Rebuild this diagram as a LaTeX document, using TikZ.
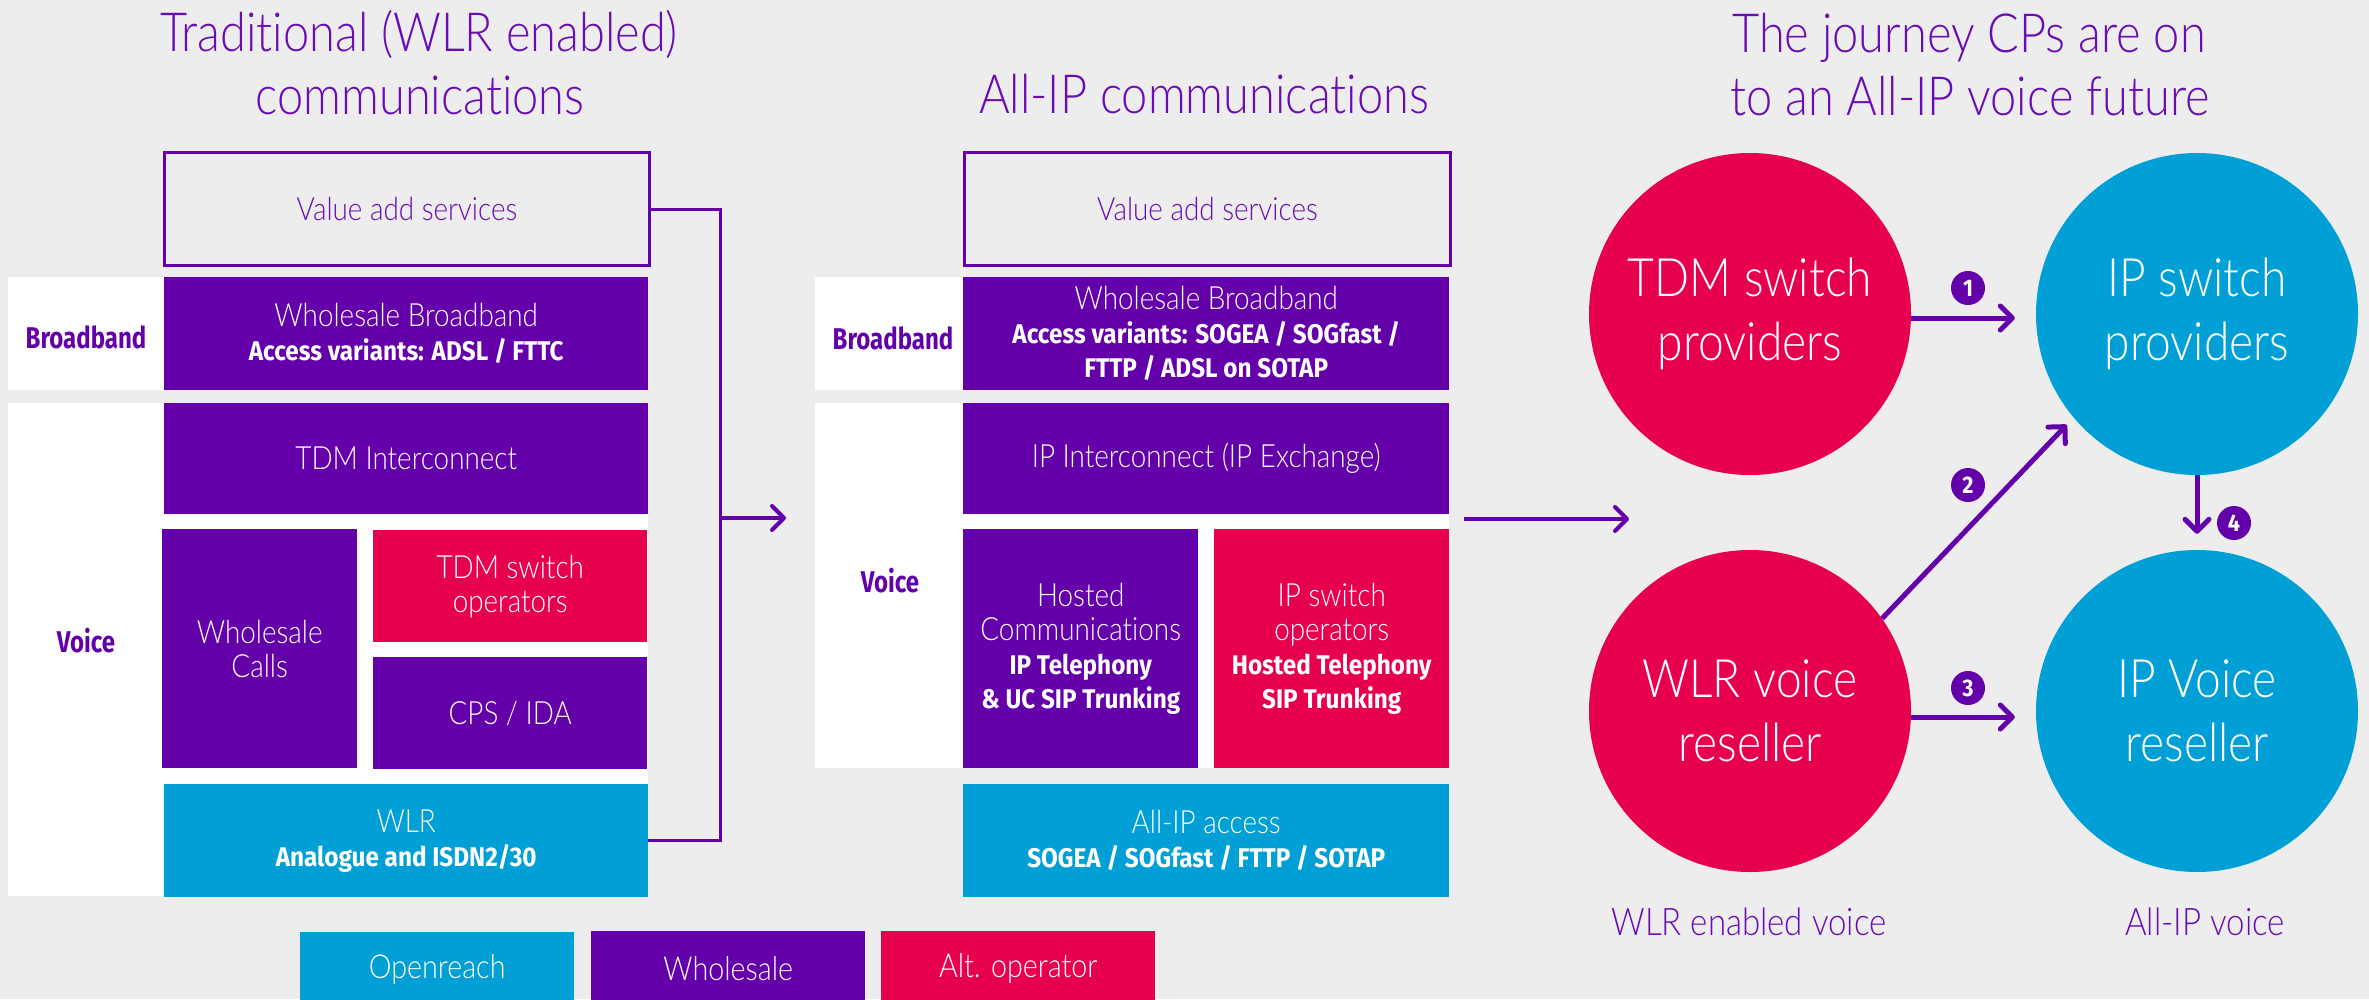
\documentclass[tikz,border=0pt]{standalone}
\usepackage{fontspec}
\setmainfont{Lato Light}[FakeStretch=0.87, Ligatures=NoCommon]
\newfontfamily\strongfont{Fira Sans}[FakeStretch=0.9]
\newfontfamily\labelfont{Fira Sans}[FakeStretch=0.8]
\usetikzlibrary{arrows.meta,calc}
\definecolor{bgc}{HTML}{EDEDED}
\definecolor{bpurple}{HTML}{6400AA}
\definecolor{bpink}{HTML}{E6004F}
\definecolor{bblue}{HTML}{00A0D6}
\definecolor{tpurple}{HTML}{6A0CB4}
\newcommand\lightsz{\fontsize{32}{34}\selectfont}
\newcommand\boldsz{\fontsize{27}{34}\selectfont\strongfont\bfseries}

\begin{document}
\begin{tikzpicture}[x=1pt,y=-1pt,
  tile/.style={rectangle, anchor=north west, inner sep=0pt, align=center, text=white, font=\lightsz},
  wholesale/.style={tile, fill=bpurple},
  openreach/.style={tile, fill=bblue},
  altop/.style={tile, fill=bpink},
  valuebox/.style={tile, draw=bpurple, line width=3pt, text=tpurple},
  sidelabel/.style={font=\fontsize{30}{34}\selectfont\labelfont\bfseries, text=bpurple},
  title/.style={font=\fontsize{54}{63}\selectfont, text=tpurple, anchor=base},
  caption/.style={font=\fontsize{38}{44}\selectfont, text=tpurple, anchor=base},
  legend/.style={tile, minimum width=274pt, minimum height=74pt, font=\fontsize{33}{40}\selectfont},
  party/.style={circle, minimum size=322pt, inner sep=0pt, align=center, text=white, font=\fontsize{53}{64}\selectfont},
  badge/.style={circle, fill=bpurple, minimum size=34pt, inner sep=0pt, text=white, font=\fontsize{24}{24}\selectfont\strongfont\bfseries},
  flow/.style={draw=bpurple, line width=5pt, -{Straight Barb[length=12pt,width=24pt,round]}},
  bracket/.style={draw=bpurple, line width=3pt},
]
\useasboundingbox (0,0) rectangle (2369,999);
\fill[bgc] (0,0) rectangle (2369,999);

% ---------- titles ----------
\node[title] (t1a) at (419,51) {Traditional (WLR enabled)};
\node[title] (t1b) at (420,114) {communications};
\node[title] (t2) at (1204,113) {All-IP communications};
\node[title] (t3a) at (1969,52) {The journey CPs are on};
\node[title] (t3b) at (1970,115) {to an All-IP voice future};

% ---------- traditional stack ----------
\fill[white] (8,277) rectangle (648,390);
\fill[white] (8,403) rectangle (648,896);
\node[sidelabel] (bbl1) at (86,337) {Broadband};
\node[sidelabel] (vl1) at (86,641) {Voice};

\node[valuebox, minimum width=485pt, minimum height=113pt] (va1) at (163,151) {Value add services};
\node[wholesale, minimum width=484pt, minimum height=113pt] (wb1) at (164,277)
  {Wholesale Broadband\\{\boldsz Access variants: ADSL / FTTC}};
\node[wholesale, minimum width=484pt, minimum height=111pt] (tdmi) at (164,403) {TDM Interconnect};
\node[wholesale, minimum width=195pt, minimum height=239pt] (wcalls) at (162,529) {Wholesale\\Calls};
\node[altop, minimum width=274pt, minimum height=112pt] (tdmso) at (373,530) {TDM switch\\operators};
\node[wholesale, minimum width=274pt, minimum height=112pt] (cps) at (373,657) {CPS / IDA};
\node[openreach, minimum width=484pt, minimum height=113pt] (wlr) at (164,784)
  {WLR\\{\boldsz Analogue and ISDN2/30}};

% ---------- all-IP stack ----------
\fill[white] (815,277) rectangle (1449,390);
\fill[white] (815,403) rectangle (1449,768);
\node[sidelabel] (bbl2) at (893,338) {Broadband};
\node[sidelabel] (vl2) at (890,581) {Voice};

\node[valuebox, minimum width=486pt, minimum height=113pt] (va2) at (963,151) {Value add services};
\node[wholesale, minimum width=486pt, minimum height=113pt] (wb2) at (963,277)
  {Wholesale Broadband\\{\boldsz Access variants: SOGEA / SOGfast /}\\{\boldsz FTTP / ADSL on SOTAP}};
\node[wholesale, minimum width=486pt, minimum height=111pt] (ipi) at (963,403) {IP Interconnect (IP Exchange)};
\node[wholesale, minimum width=235pt, minimum height=239pt] (hosted) at (963,529)
  {Hosted\\Communications\\{\boldsz IP Telephony}\\{\boldsz \& UC SIP Trunking}};
\node[altop, minimum width=235pt, minimum height=239pt] (ipso) at (1214,529)
  {IP switch\\operators\\{\boldsz Hosted Telephony}\\{\boldsz SIP Trunking}};
\node[openreach, minimum width=486pt, minimum height=113pt] (allip) at (963,784)
  {All-IP access\\{\boldsz SOGEA / SOGfast / FTTP / SOTAP}};

% ---------- connectors between stacks ----------
\coordinate (brk) at (720,518);
\coordinate (brkend) at (786,518);
\draw[bracket] (va1.east) -| (brk) |- (wlr.east);
\draw[flow, line width=4pt] (brk) -- (brkend);
\coordinate (midout) at (1464,519);
\coordinate (midin) at (1629,519);
\draw[flow, line width=4pt] (midout) -- (midin);

% ---------- legend ----------
\node[openreach, legend] (lgo) at (300,932) {Openreach};
\node[wholesale, legend] (lgw) at (591,931) {Wholesale};
\node[altop, legend] (lga) at (881,931) {Alt. operator};

% ---------- journey ----------
\node[party, fill=bpink] (tdm) at (1750,314) {TDM switch\\providers};
\node[party, fill=bblue] (ips) at (2197,314) {IP switch\\providers};
\node[party, fill=bpink] (wlrv) at (1750,711) {WLR voice\\reseller};
\node[party, fill=bblue] (ipv) at (2197,711) {IP Voice\\reseller};

\draw[flow, shorten >=21pt] ($(tdm.east)+(0,4)$) -- ($(ips.west)+(0,4)$);
\draw[flow, shorten >=10pt] (wlrv.35.5) -- (ips.220.5);
\draw[flow, shorten >=21pt] ($(wlrv.east)+(0,6)$) -- ($(ipv.west)+(0,6)$);
\draw[flow, shorten >=16pt] (ips) -- (ipv);

\node[badge] (b1) at (1968,288) {1};
\node[badge] (b2) at (1968,485) {2};
\node[badge] (b3) at (1968,688) {3};
\node[badge] (b4) at (2234,523) {4};

\node[caption] (cap1) at (1749,935) {WLR enabled voice};
\node[caption] (cap2) at (2205,935) {All-IP voice};
\end{tikzpicture}
\end{document}
